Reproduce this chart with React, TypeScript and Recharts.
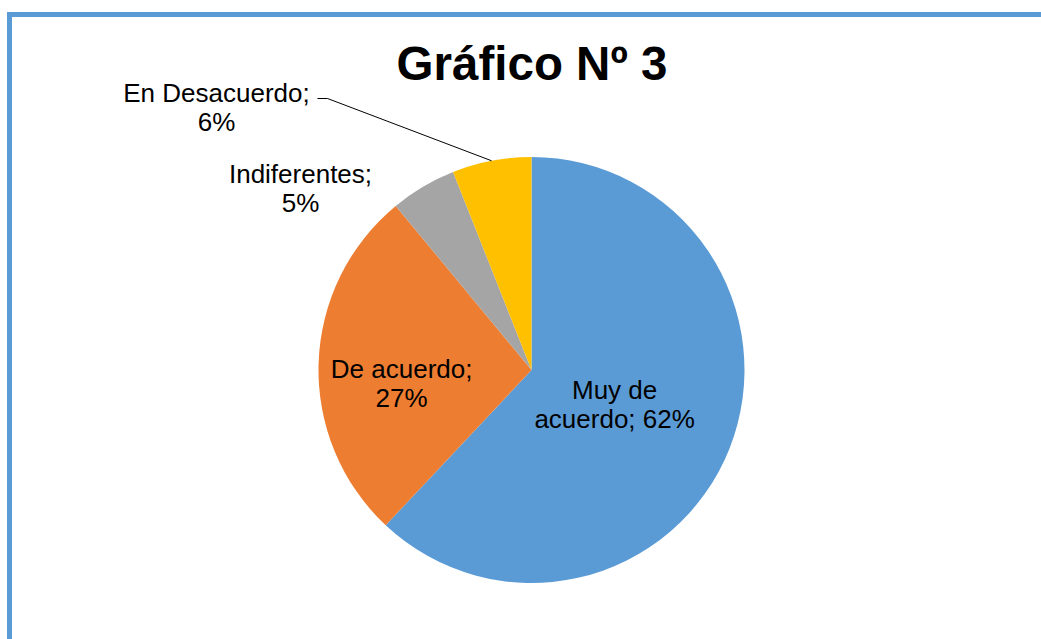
import React from 'react';
import { PieChart, Pie, Cell } from 'recharts';

const TITLE = 'Gráfico Nº 3';
const CATEGORIES = ['Muy de acuerdo', 'De acuerdo', 'Indiferentes', 'En Desacuerdo'];
const VALUES = [62, 27, 5, 6];
const COLORS = ['#5B9BD5', '#ED7D31', '#A5A5A5', '#FFC000'];

// layout for labels (not data): how many words of the name go on line 1, and placement
const LABEL_LAYOUT = [
  { mode: 'polar', rf: 0.44, dx: -4, dy: 0, firstWords: 2 },
  { mode: 'polar', rf: 0.61, dx: 0, dy: 17.5, firstWords: 99 },
  { mode: 'center', dx: -231, dy: -182, firstWords: 99 },
  { mode: 'center', dx: -315, dy: -263, firstWords: 99, leader: { dx: 101, len: 10 } },
];

const W = 1041;
const H = 639;
const FONT = '"Liberation Sans", Arial, sans-serif';
const RAD = Math.PI / 180;

const data = CATEGORIES.map((name, i) => ({ name, value: VALUES[i] }));

const renderLabel = (props: any) => {
  const { cx, cy, midAngle, outerRadius, index, name, percent } = props;
  const lay = LABEL_LAYOUT[index];
  let px: number;
  let py: number;
  if (lay.mode === 'polar') {
    const r = outerRadius * (lay as any).rf;
    px = cx + r * Math.cos(-midAngle * RAD) + lay.dx;
    py = cy + r * Math.sin(-midAngle * RAD) + lay.dy;
  } else {
    px = cx + lay.dx;
    py = cy + lay.dy;
  }
  const words = String(name).split(' ');
  const pct = `${Math.round(percent * 100)}%`;
  let line1: string;
  let line2: string;
  if (lay.firstWords >= words.length) {
    line1 = `${name};`;
    line2 = pct;
  } else {
    line1 = words.slice(0, lay.firstWords).join(' ');
    line2 = `${words.slice(lay.firstWords).join(' ')}; ${pct}`;
  }
  const b1 = py - 5.5;
  const b2 = b1 + 29;
  let leader = null;
  const ld = (lay as any).leader;
  if (ld) {
    const sx = px + ld.dx;
    const sy = b1 - 3;
    const ex = cx + outerRadius * Math.cos(-midAngle * RAD);
    const ey = cy + outerRadius * Math.sin(-midAngle * RAD);
    leader = (
      <polyline
        points={`${sx},${sy} ${sx + ld.len},${sy} ${ex},${ey}`}
        fill="none"
        stroke="#000"
        strokeWidth={1}
      />
    );
  }
  return (
    <g key={`lbl-${index}`}>
      {leader}
      <text x={px} y={b1} textAnchor="middle" fontSize={26} fontFamily={FONT} fill="#000">
        {line1}
      </text>
      <text x={px} y={b2} textAnchor="middle" fontSize={26} fontFamily={FONT} fill="#000">
        {line2}
      </text>
    </g>
  );
};

export default function App() {
  return (
    <div
      style={{
        position: 'absolute',
        left: 0,
        top: 0,
        width: W,
        height: H,
        overflow: 'hidden',
        background: '#fff',
      }}
    >
      <div
        style={{
          position: 'absolute',
          left: 7,
          top: 12,
          width: 1200,
          height: 800,
          border: '5px solid #5B9BD5',
          boxSizing: 'border-box',
        }}
      />
      <svg width={W} height={H} style={{ position: 'absolute', left: 0, top: 0 }}>
        <text
          x={532}
          y={80}
          textAnchor="middle"
          fontSize={47.5}
          fontWeight="bold"
          fontFamily={FONT}
          fill="#000"
        >
          {TITLE}
        </text>
      </svg>
      <div style={{ position: 'absolute', left: 0, top: 0 }}>
        <PieChart width={W} height={H} margin={{ top: 0, right: 0, bottom: 0, left: 0 }}>
          <Pie
            data={data}
            dataKey="value"
            nameKey="name"
            cx={531.5}
            cy={370}
            outerRadius={213}
            startAngle={90}
            endAngle={-270}
            stroke="none"
            label={renderLabel}
            labelLine={false}
            isAnimationActive={false}
          >
            {data.map((d, i) => (
              <Cell key={d.name} fill={COLORS[i]} />
            ))}
          </Pie>
        </PieChart>
      </div>
    </div>
  );
}
